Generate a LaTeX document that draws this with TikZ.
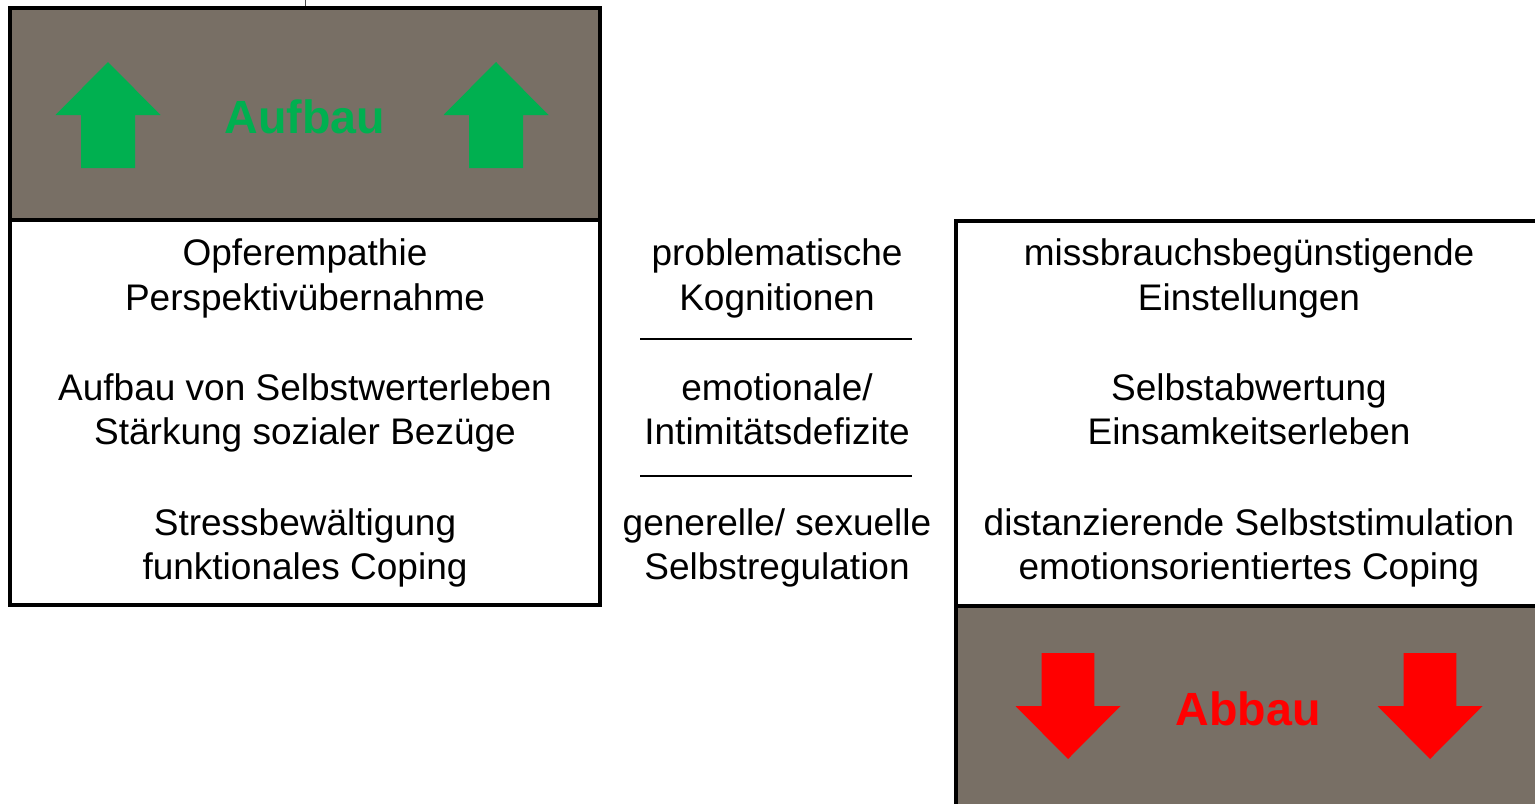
\documentclass[tikz,border=0pt]{standalone}
\usepackage{fontspec}
\setmainfont{Liberation Sans}
\definecolor{boxgray}{RGB}{120,111,101}
\definecolor{upgreen}{RGB}{0,176,80}
\definecolor{downred}{RGB}{255,0,0}
\begin{document}
\begin{tikzpicture}[x=0.5pt,y=-0.5pt,
  frame/.style={draw=black,line width=1.9pt},
  body/.style={anchor=base,inner sep=0pt,font=\fontsize{18.5}{22}\selectfont},
  head/.style={anchor=base,inner sep=0pt,font=\bfseries\fontsize{23.3}{27}\selectfont},
  sep/.style={draw=black,line width=1pt},
  uparr/.pic={\fill (0,0) -- (52.5,53) -- (27,53) -- (27,106) -- (-27,106) -- (-27,53) -- (-52.5,53) -- cycle;},
  downarr/.pic={\fill (0,0) -- (52.5,-53) -- (26.3,-53) -- (26.3,-106) -- (-26.3,-106) -- (-26.3,-53) -- (-52.5,-53) -- cycle;}]
\useasboundingbox (0,0) rectangle (1535,803);
% small tick at top
\draw[line width=0.5pt,black!70] (305,0) -- (305,8);
% left box
\fill[boxgray] (10,8) rectangle (600,220);
\fill[white] (10,220) rectangle (600,605);
\draw[frame] (10,8) rectangle (600,605);
\draw[frame] (10,220) -- (600,220);
\pic[fill=upgreen] at (108,62) {uparr};
\pic[fill=upgreen] at (496,62) {uparr};
\node[head,text=upgreen] (aufbau) at (305,133) {Aufbau};
% right box
\fill[boxgray] (956,606) rectangle (1545,813);
\fill[white] (956,221) rectangle (1545,606);
\draw[frame] (956,221) rectangle (1545,813);
\draw[frame] (956,606) -- (1545,606);
\pic[fill=downred] at (1068,759) {downarr};
\pic[fill=downred] at (1430,759) {downarr};
\node[head,text=downred] (abbau) at (1248,725) {Abbau};
% left texts
\node[body] (l1) at (305,265) {Opferempathie};
\node[body] (l2) at (305,310) {Perspektivübernahme};
\node[body] (l3) at (305,400) {Aufbau von Selbstwerterleben};
\node[body] (l4) at (305,444) {Stärkung sozialer Bezüge};
\node[body] (l5) at (305,535) {Stressbewältigung};
\node[body] (l6) at (305,579) {funktionales Coping};
% middle texts
\node[body] (m1) at (777,265) {problematische};
\node[body] (m2) at (777,310) {Kognitionen};
\node[body] (m3) at (777,400) {emotionale/};
\node[body] (m4) at (777,444) {Intimitätsdefizite};
\node[body] (m5) at (777,535) {generelle/ sexuelle};
\node[body] (m6) at (777,579) {Selbstregulation};
\coordinate (s1a) at (640,339);
\coordinate (s1b) at (912,339);
\coordinate (s2a) at (640,476);
\coordinate (s2b) at (912,476);
\draw[sep] (s1a) -- (s1b);
\draw[sep] (s2a) -- (s2b);
% right texts
\node[body] (r1) at (1249,265) {missbrauchsbegünstigende};
\node[body] (r2) at (1249,310) {Einstellungen};
\node[body] (r3) at (1249,400) {Selbstabwertung};
\node[body] (r4) at (1249,444) {Einsamkeitserleben};
\node[body] (r5) at (1249,535) {distanzierende Selbststimulation};
\node[body] (r6) at (1249,579) {emotionsorientiertes Coping};
\end{tikzpicture}
\end{document}
